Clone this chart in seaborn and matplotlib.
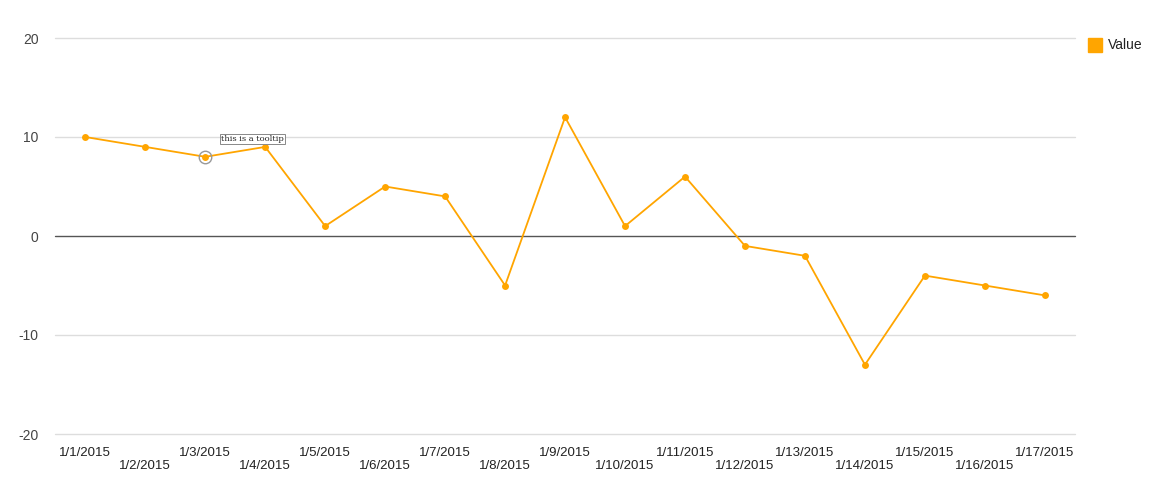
import matplotlib
matplotlib.use("Agg")
import matplotlib.pyplot as plt
import seaborn as sns
import pandas as pd

dates = [f"1/{d}/2015" for d in range(1, 18)]
values = [10, 9, 8, 9, 1, 5, 4, -5, 12, 1, 6, -1, -2, -13, -4, -5, -6]
yticks = [-20, -10, 0, 10, 20]

sns.set_style("white")
plt.rcParams['font.family'] = ['Arial', 'Liberation Sans', 'DejaVu Sans']
df = pd.DataFrame({"x": range(len(dates)), "Value": values})

fig = plt.figure(figsize=(11.76, 5), dpi=100)
ax = fig.add_axes([0.047, 0.132, 0.867, 0.792])
color = "#FFA500"
sns.lineplot(data=df, x="x", y="Value", ax=ax, color=color, lw=1.3, marker="o",
             markersize=5, markeredgewidth=0, legend=False)
ax.plot(2, values[2], "o", ms=9, mfc="none", mec="#999999", mew=1)
ax.set_xlim(-0.5, len(dates) - 0.5)
ax.set_ylim(-20, 20)
ax.set_yticks(yticks)
ax.set_yticklabels([str(t) for t in yticks], color="#444444", fontsize=10)
ax.set_xticks(range(len(dates)))
ax.set_xticklabels([d if i % 2 == 0 else "\n" + d for i, d in enumerate(dates)],
                   color="#222222", fontsize=9.5)
ax.tick_params(length=0, pad=6)
ax.tick_params(axis="x", pad=9)
ax.tick_params(axis="y", pad=12)
for t in yticks:
    ax.axhline(t, color="#555555" if t == 0 else "#dddddd", lw=1, zorder=0, clip_on=False)
for s in ax.spines.values():
    s.set_visible(False)
ax.set_xlabel("")
ax.set_ylabel("")
ax.annotate("this is a tooltip", (2.27, 9.6), fontsize=6, family="DejaVu Serif",
            bbox=dict(boxstyle="square,pad=0.15", fc="white", ec="#888888", lw=0.7))
fig.patches.append(plt.Rectangle((0.925, 0.896), 0.012, 0.028, color=color,
                                 transform=fig.transFigure, figure=fig))
fig.text(0.942, 0.910, "Value", fontsize=10, va="center", color="#222222")
fig.savefig("out.png", dpi=100)
